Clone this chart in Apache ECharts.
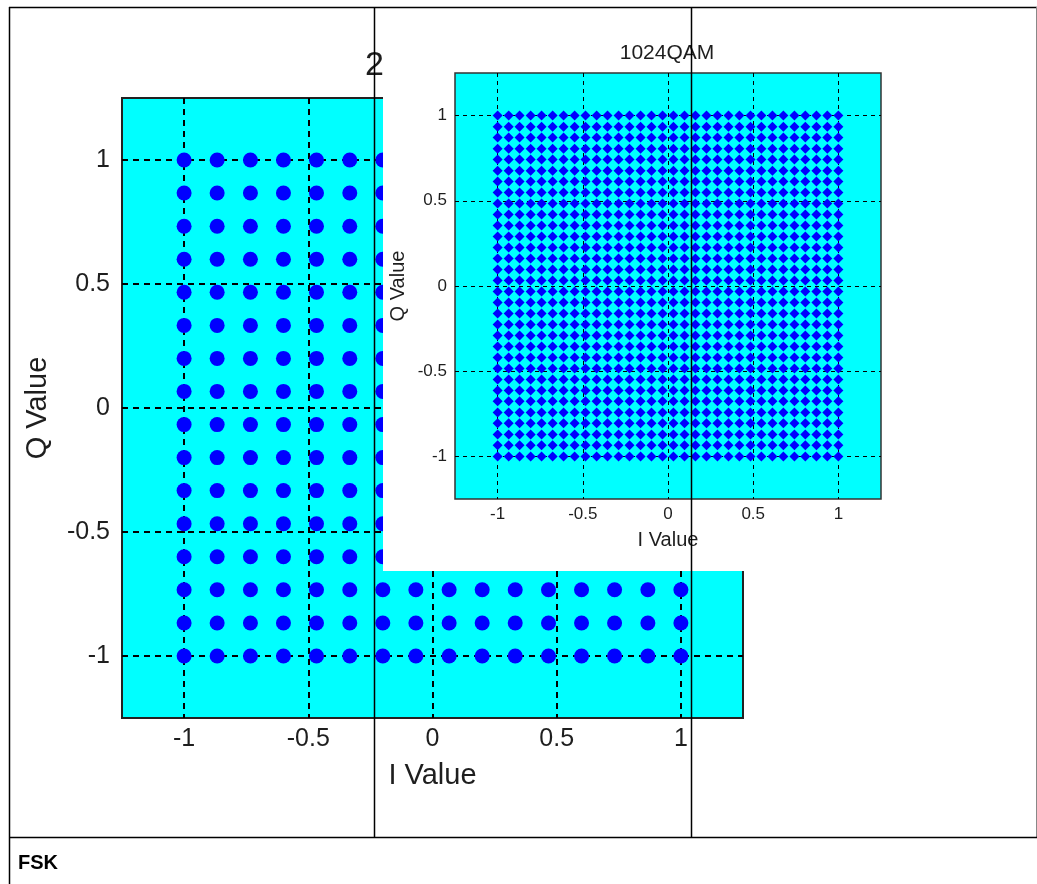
<!DOCTYPE html>
<html>
<head>
<meta charset="utf-8">
<script src="https://cdn.jsdelivr.net/npm/echarts@6/dist/echarts.min.js"></script>
<style>
html,body{margin:0;padding:0;background:#fff;}
#chart{width:1037px;height:884px;}
</style>
</head>
<body>
<div id="chart"></div>
<script>
// ---- data ----
const mainTitle = '256QAM';
const insetTitle = '1024QAM';
const footerText = 'FSK';
const tickValues = [-1, -0.5, 0, 0.5, 1];
const tickLabels = ['-1', '-0.5', '0', '0.5', '1'];
// 16 amplitude levels of the 256QAM constellation (I and Q)
const levels256 = [-1, -0.867, -0.733, -0.6, -0.467, -0.333, -0.2, -0.067,
                   0.067, 0.2, 0.333, 0.467, 0.6, 0.733, 0.867, 1];
// 32 amplitude levels of the 1024QAM constellation (I and Q)
const levels1024 = [-1, -0.935, -0.871, -0.806, -0.742, -0.677, -0.613, -0.548,
                    -0.484, -0.419, -0.355, -0.290, -0.226, -0.161, -0.097, -0.032,
                    0.032, 0.097, 0.161, 0.226, 0.290, 0.355, 0.419, 0.484,
                    0.548, 0.613, 0.677, 0.742, 0.806, 0.871, 0.935, 1];

function grid2(levels){
  const pts = [];
  for (const q of levels) for (const i of levels) pts.push([i, q]);
  return pts;
}
const pts256 = grid2(levels256);
const pts1024 = grid2(levels1024);

const FONT = '"Liberation Sans", Arial, sans-serif';
const TXT = '#1e1e1e';

function mkAxis(gridIndex, z, opts){
  const labelMap = {};
  tickValues.forEach((v,k)=>labelMap[v]=tickLabels[k]);
  return {
    type: 'value', gridIndex: gridIndex, z: z,
    min: -1.25, max: 1.25,
    name: opts.name, nameLocation: 'middle', nameGap: opts.nameGap,
    nameRotate: opts.nameRotate,
    nameTextStyle: {fontFamily: FONT, fontSize: opts.nameSize, color: TXT},
    axisLine: {show: false},
    axisTick: {show: false, customValues: tickValues},
    axisLabel: {
      customValues: tickValues, margin: opts.labelMargin,
      fontFamily: FONT, fontSize: opts.labelSize, color: TXT,
      formatter: v => labelMap[v] !== undefined ? labelMap[v] : String(v)
    },
    splitLine: {show: true, lineStyle: {color: '#000', width: opts.gridWidth, type: opts.dash}}
  };
}

const chart = echarts.init(document.getElementById('chart'), null, {renderer: 'canvas'});
chart.setOption({
  animation: false,
  grid: [
    {left: 122, top: 98, width: 621, height: 620, show: true, backgroundColor: '#00FFFF',
     borderColor: '#222', borderWidth: 2, z: 0},
    {left: 455, top: 73, width: 426, height: 426, show: true, backgroundColor: '#00FFFF',
     borderColor: '#333', borderWidth: 1.5, z: 11}
  ],
  xAxis: [
    mkAxis(0, 1, {name: 'I Value', nameGap: 43, nameSize: 29, labelSize: 25, labelMargin: 9, gridWidth: 2, dash: [6, 5]}),
    mkAxis(1, 12, {name: 'I Value', nameGap: 31, nameSize: 20, labelSize: 17, labelMargin: 7, gridWidth: 1, dash: [4, 4]})
  ],
  yAxis: [
    mkAxis(0, 1, {name: 'Q Value', nameGap: 70, nameRotate: 90, nameSize: 29, labelSize: 25, labelMargin: 12, gridWidth: 2, dash: [6, 5]}),
    mkAxis(1, 12, {name: 'Q Value', nameGap: 47, nameRotate: 90, nameSize: 20, labelSize: 17, labelMargin: 8, gridWidth: 1, dash: [4, 4]})
  ],
  series: [
    {type: 'scatter', name: mainTitle, xAxisIndex: 0, yAxisIndex: 0, z: 2,
     symbol: 'circle', symbolSize: 15, itemStyle: {color: '#0000FF', opacity: 1}, data: pts256, silent: true},
    {type: 'scatter', name: insetTitle, xAxisIndex: 1, yAxisIndex: 1, z: 13,
     symbol: 'diamond', symbolSize: 10, itemStyle: {color: '#0000FF', opacity: 1}, data: pts1024, silent: true}
  ],
  graphic: [
    // main title (mostly hidden behind the inset panel)
    {type: 'text', z: 1, x: 432, y: 66, style: {text: mainTitle, fontFamily: FONT, fontSize: 34,
      fill: TXT, textAlign: 'center', textVerticalAlign: 'middle'}},
    // white inset panel
    {type: 'rect', z: 10, shape: {x: 383, y: 9, width: 654, height: 562}, style: {fill: '#fff'}},
    // inset title
    {type: 'text', z: 12, x: 667, y: 53, style: {text: insetTitle, fontFamily: FONT, fontSize: 21,
      fill: TXT, textAlign: 'center', textVerticalAlign: 'middle'}},
    // frame
    {type: 'line', z: 20, shape: {x1: 9, y1: 7.5, x2: 1037, y2: 7.5}, style: {stroke: '#000', lineWidth: 1.5}},
    {type: 'line', z: 20, shape: {x1: 9.5, y1: 7, x2: 9.5, y2: 884}, style: {stroke: '#000', lineWidth: 1.5}},
    {type: 'line', z: 20, shape: {x1: 1036.5, y1: 7, x2: 1036.5, y2: 837}, style: {stroke: '#888', lineWidth: 1}},
    {type: 'line', z: 20, shape: {x1: 9, y1: 837.5, x2: 1037, y2: 837.5}, style: {stroke: '#000', lineWidth: 1.5}},
    {type: 'line', z: 20, shape: {x1: 374.5, y1: 7, x2: 374.5, y2: 837}, style: {stroke: '#000', lineWidth: 1.5}},
    {type: 'line', z: 20, shape: {x1: 691.5, y1: 7, x2: 691.5, y2: 837}, style: {stroke: '#000', lineWidth: 1.5}},
    // footer label
    {type: 'text', z: 20, x: 18, y: 863, style: {text: footerText, fontFamily: FONT, fontSize: 20,
      fontWeight: 'bold', fill: '#000', textAlign: 'left', textVerticalAlign: 'middle'}}
  ]
});
</script>
</body>
</html>
